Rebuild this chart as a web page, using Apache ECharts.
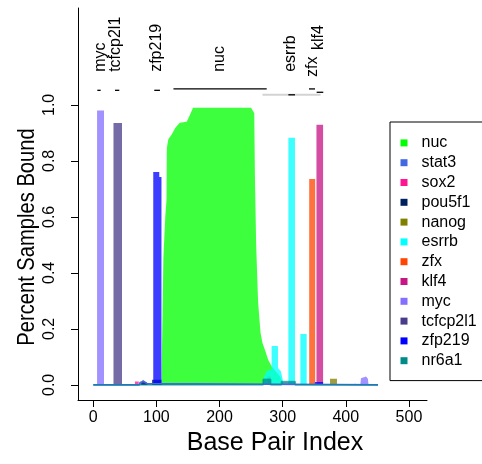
<!DOCTYPE html>
<html><head><meta charset="utf-8">
<script src="https://cdn.jsdelivr.net/npm/echarts@6/dist/echarts.min.js"></script>
<style>html,body{margin:0;padding:0;background:#fff}#c{width:482px;height:464px}</style>
</head><body><div id="c"></div>
<script>
// ---- data ----
const factorNames = ['nuc','stat3','sox2','pou5f1','nanog','esrrb','zfx','klf4','myc','tcfcp2l1','zfp219','nr6a1'];
const factorColors = ['#00FF00','#4169E1','#FF1493','#00215E','#808000','#00FFFF','#FF4500','#C71585','#8470FF','#483D8B','#0000FF','#008B8B'];

// profiles: [base pair index, fraction of samples bound]
const nuc = [[108,0],[110,0.3],[111,0.45],[114,0.6],[116,0.66],[116.5,0.846],[119,0.878],[124,0.893],[130,0.918],[137,0.936],[148,0.94],[153,0.964],[158,0.99],[250,0.99],[253,0.985],[255,0.97],[256,0.75],[258,0.5],[261,0.3],[263,0.24],[265,0.185],[268,0.15],[272,0.125],[277,0.09],[283,0.065],[290,0.045],[296,0.03],[301,0]];
const stat3 = [[0,0],[73,0],[74,0.008],[80,0.012],[85,0.005],[86,0],[451,0]];
const sox2 = [[66,0],[66,0.012],[72,0.012],[72,0],[367,0],[367,0.006],[375,0.006],[375,0]];
const pou5f1 = [[76,0],[76,0.01],[79,0.018],[81,0.01],[85,0.008],[86,0],[93,0],[93,0.018],[108,0.018],[108,0]];
const nanog = [[276,0],[276,0.03],[281,0.03],[281,0],[375,0],[375,0.022],[386,0.022],[386,0]];
const esrrb = [[269,0],[269,0.02],[275,0.05],[282.5,0.055],[282.5,0.139],[292.5,0.139],[292.5,0.06],[297,0.05],[300,0.02],[301,0],[309,0],[309,0.883],[319.5,0.883],[319.5,0],[328,0],[328,0.182],[338,0.182],[338,0]];
const zfx = [[342,0],[342,0.735],[351.5,0.735],[351.5,0]];
const klf4 = [[353.5,0],[353.5,0.929],[364,0.929],[364,0]];
const myc = [[6,0],[6,0.98],[17,0.98],[17,0],[405,0],[405,0.004],[415,0.004],[415,0],[423,0],[424,0.024],[427,0.03],[432,0.03],[435,0.022],[436,0]];
const tcfcp2l1 = [[32,0],[32,0.935],[45.5,0.935],[45.5,0]];
const zfp219 = [[95,0],[95,0.76],[104.5,0.76],[104.5,0.742],[108,0.742],[108,0],[351,0],[351,0.01],[364,0.01],[364,0]];
const nr6a1 = [[0,0],[269,0],[269,0.02],[281,0.02],[281,0],[298,0],[298,0.012],[320,0.012],[320,0],[451,0]];

const xTicks = [0,100,200,300,400,500];
const yTicks = [0,0.2,0.4,0.6,0.8,1.0];

// top annotations
const annotNames = ['myc','tcfcp2l1','zfp219','nuc','esrrb','zfx','klf4'];
const annotPos   = [11, 36, 101, 200, 313, 348, 357];
const annotLevel = [1.118, 1.118, 1.118, 1.118, 1.118, 1.10, 1.196];
const segStart = [268, 6.4, 34.4, 96.6, 127, 309, 341.7, 353.8];
const segEnd   = [360, 11.7, 41.2, 105.6, 274.7, 319.5, 351.2, 364.3];
const segLevel = [1.036, 1.052, 1.052, 1.052, 1.057, 1.036, 1.057, 1.045];
const segGray  = [true, false, false, false, false, false, false, false];

// ---- chart ----
const profiles = [nuc, stat3, sox2, pou5f1, nanog, esrrb, zfx, klf4, myc, tcfcp2l1, zfp219, nr6a1];
const FONT = 'Liberation Sans, Arial, sans-serif';

const series = factorNames.map((n, i) => {
  const base = (n === 'stat3' || n === 'nr6a1');
  return {
    name: n, type: 'line', data: profiles[i], symbol: 'none', showSymbol: false,
    silent: true, animation: false,
    itemStyle: { color: factorColors[i] },
    lineStyle: { color: factorColors[i], width: base ? 1.6 : 0, opacity: base ? (n === 'nr6a1' ? 0.55 : 1) : 0 },
    areaStyle: { color: factorColors[i], opacity: 0.76 },
    emphasis: { disabled: true }
  };
});

series.push({
  type: 'custom', coordinateSystem: 'cartesian2d', silent: true, animation: false, z: 5,
  encode: { x: [0, 1], y: 2 },
  data: segStart.map((s, i) => [s, segEnd[i], segLevel[i]]),
  renderItem: (params, api) => {
    const a = api.coord([api.value(0), api.value(2)]);
    const b = api.coord([api.value(1), api.value(2)]);
    const g = segGray[params.dataIndex];
    return { type: 'line', shape: { x1: a[0], y1: a[1], x2: b[0], y2: b[1] },
      style: { stroke: g ? '#D3D3D3' : '#000', lineWidth: g ? 2 : 1.3 } };
  }
});
series.push({
  type: 'custom', coordinateSystem: 'cartesian2d', silent: true, animation: false, z: 5,
  encode: { x: 0, y: 1 },
  data: annotPos.map((p, i) => [p, annotLevel[i]]),
  renderItem: (params, api) => {
    const pt = api.coord([api.value(0), api.value(1)]);
    return { type: 'text', x: pt[0], y: pt[1], rotation: Math.PI / 2,
      style: { text: annotNames[params.dataIndex], fontSize: 16, fontFamily: FONT, fill: '#000',
        align: 'left', verticalAlign: 'middle', textAlign: 'left', textVerticalAlign: 'middle' } };
  }
});

const chart = echarts.init(document.getElementById('c'), null, { renderer: 'canvas' });
chart.setOption({
  animation: false,
  backgroundColor: '#fff',
  grid: { left: 78, right: 55, top: 8, bottom: 64, containLabel: false },
  xAxis: {
    type: 'value', min: -24.2, max: 528.6,
    axisLine: { show: true, onZero: false, lineStyle: { color: '#000', width: 1 } },
    axisTick: { show: true, customValues: xTicks, length: 7, lineStyle: { color: '#000' } },
    axisLabel: { customValues: xTicks, fontSize: 16, color: '#000', fontFamily: FONT, margin: 10 },
    splitLine: { show: false },
    name: 'Base Pair Index', nameLocation: 'middle', nameGap: 31,
    nameTextStyle: { fontSize: 25, color: '#000', fontFamily: FONT, padding: [0, 0, 0, 45] }
  },
  yAxis: {
    type: 'value', min: -0.054, max: 1.346,
    axisLine: { show: true, onZero: false, lineStyle: { color: '#000', width: 1 } },
    axisTick: { show: true, customValues: yTicks, length: 7, lineStyle: { color: '#000' } },
    axisLabel: { customValues: yTicks, rotate: 90, fontSize: 16, color: '#000', fontFamily: FONT, margin: 20,
      formatter: v => v.toFixed(1) },
    splitLine: { show: false }
  },
  graphic: [{
    type: 'text', x: 27, y: 237, rotation: Math.PI / 2, scaleX: 0.84, silent: true,
    style: { text: 'Percent Samples Bound', fontSize: 24, fontFamily: FONT, fill: '#000',
      align: 'center', verticalAlign: 'middle', textAlign: 'center', textVerticalAlign: 'middle' }
  }],
  legend: {
    data: factorNames, orient: 'vertical', left: 390, top: 122,
    icon: 'rect', itemWidth: 7, itemHeight: 7, itemGap: 0,
    padding: [11, 12, 10, 10.5], borderColor: '#000', borderWidth: 1, borderRadius: 0,
    selectedMode: false,
    itemStyle: { borderWidth: 0 },
    textStyle: { fontSize: 16, color: '#000', fontFamily: FONT, lineHeight: 19.8, padding: [0, 0, 0, 9] }
  },
  series: series
});
</script>
</body></html>
